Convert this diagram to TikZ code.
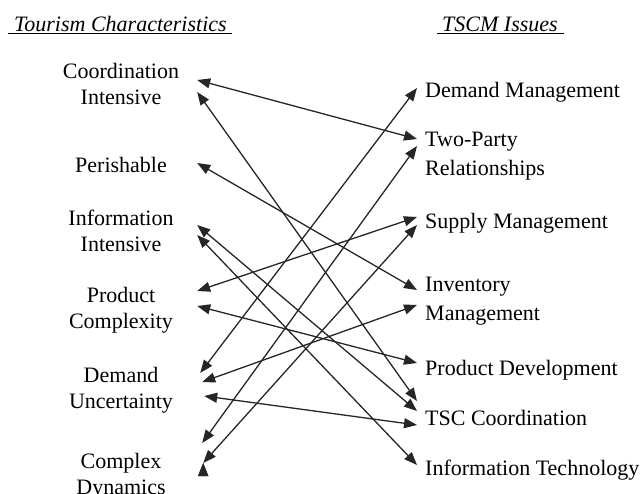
\documentclass[tikz,border=0pt]{standalone}
\usepackage{fontspec}
\setmainfont{Liberation Serif}
\usetikzlibrary{positioning, shapes, arrows.meta}

\begin{document}
\begin{tikzpicture}[x=1pt, y=-1pt,
  char/.style={align=center, anchor=north, minimum width=152pt, inner sep=0pt, font=\fontsize{22}{26}\selectfont},
  issue/.style={align=left, anchor=north west, inner xsep=8pt, inner ysep=0pt, font=\fontsize{22}{29}\selectfont},
  head/.style={anchor=base west, inner sep=0pt, font=\fontsize{22}{26}\selectfont\itshape},
  link/.style={{Triangle[length=13pt,width=10pt]}-{Triangle[length=13pt,width=10pt]}, line width=1.3pt, draw=black!85, fill=black!85}]
\useasboundingbox (0,0) rectangle (642,494);

% headings
\node (th) [head] at (8,32) {\underline{\hspace{6pt}Tourism Characteristics\hspace{5pt}}};
\node (ih) [head] at (437,32) {\underline{\hspace{5pt}TSCM Issues\hspace{6pt}}};

% tourism characteristics
\node (ci) [char] at (121,63) {Coordination\\Intensive};
\node (pe) [char] at (121,157) {Perishable};
\node (ii) [char] at (121,210) {Information\\Intensive};
\node (pc) [char] at (121,287) {Product\\Complexity};
\node (du) [char] at (121,367) {Demand\\Uncertainty};
\node (cd) [char] at (121,453) {Complex\\Dynamics};

% TSCM issues
\node (dm) [issue] at (417,82) {Demand Management};
\node (tp) [issue] at (417,132) {Two-Party\\Relationships};
\node (sm) [issue] at (417,213) {Supply Management};
\node (im) [issue] at (417,277) {Inventory\\Management};
\node (pd) [issue] at (417,360) {Product Development};
\node (tc) [issue] at (417,410) {TSC Coordination};
\node (it) [issue] at (417,460) {Information Technology};

\draw [link]
  ([yshift=-17pt]ci.north east) edge ([yshift=-7pt]tp.north west)
  ([yshift=-29pt]ci.north east) edge ([yshift=9pt]tc.north west)
  ([yshift=-6pt]pe.north east) edge ([yshift=-13pt]im.north west)
  ([yshift=-15pt]ii.north east) edge ([yshift=-1pt]tc.north west)
  ([yshift=-25pt]ii.north east) edge ([yshift=-5pt]it.north west)
  ([yshift=-4pt]pc.north east) edge ([yshift=-4pt]sm.north west)
  ([yshift=-19pt]pc.north east) edge ([yshift=-3pt]pd.north west)
  ([xshift=3pt,yshift=-6pt]du.north east) edge ([yshift=-6pt]dm.north west)
  ([xshift=5pt,yshift=-15pt]du.north east) edge ([yshift=-28pt]im.north west)
  ([xshift=7pt,yshift=-29pt]du.north east) edge ([yshift=-15pt]tc.north west)
  ([xshift=5pt,yshift=10pt]cd.north east) edge ([yshift=-14pt]tp.north west)
  ([xshift=6pt,yshift=-10pt]cd.north east) edge ([yshift=-12pt]sm.north west);
\end{tikzpicture}
\end{document}
